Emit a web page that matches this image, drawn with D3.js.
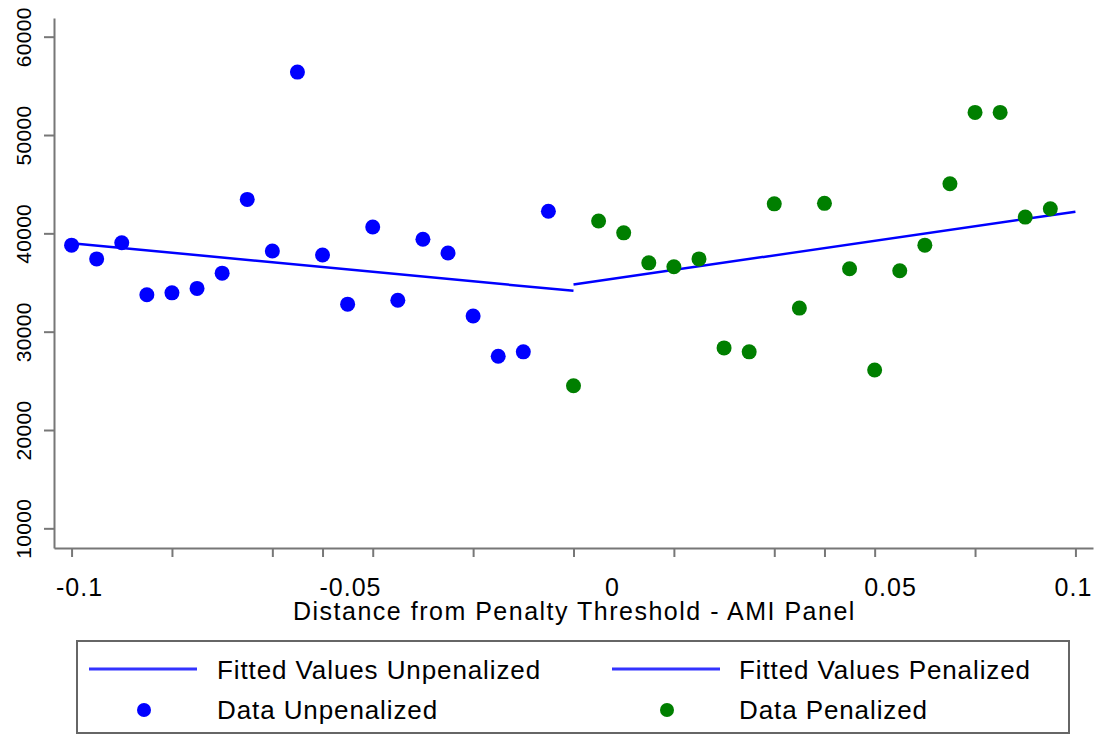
<!DOCTYPE html>
<html>
<head>
<meta charset="utf-8">
<script src="https://cdn.jsdelivr.net/npm/d3@7"></script>
<style>
    body { margin: 0; background: #fff; }
    text { font-family: "Liberation Sans", Arial, sans-serif; fill: #000; }
    .axis path, .axis line { stroke: #777; stroke-width: 2; }
    .tickLabel { font-size: 25px; letter-spacing: 1px; }
    .xTitle { font-size: 25px; letter-spacing: 1.5px; }
    .legendText { font-size: 26px; letter-spacing: 0.9px; }
</style>
</head>
<body>
<script>
//wrap in anonymous function so nothing leaks into global scope
(function (){

    //data: bins of distance from the penalty threshold
    var xUnpen = [-0.1, -0.095, -0.09, -0.085, -0.08, -0.075, -0.07, -0.065, -0.06, -0.055,
                  -0.05, -0.045, -0.04, -0.035, -0.03, -0.025, -0.02, -0.015, -0.01, -0.005];
    var yUnpen = [38800, 37400, 39050, 33750, 33950, 34400, 35950, 43450, 38200, 56400,
                  37800, 32800, 40650, 33200, 39400, 38000, 31600, 27500, 27950, 42250];

    var xPen = [0, 0.005, 0.01, 0.015, 0.02, 0.025, 0.03, 0.035, 0.04, 0.045,
                0.05, 0.055, 0.06, 0.065, 0.07, 0.075, 0.08, 0.085, 0.09, 0.095];
    var yPen = [24500, 41250, 40050, 37000, 36600, 37400, 28350, 27950, 43000, 32400,
                43050, 36400, 26100, 36200, 38800, 45050, 52300, 52300, 41650, 42500];

    //fitted line end points
    var fitUnpenX = [-0.1, 0], fitUnpenY = [39000, 34150];
    var fitPenX = [0, 0.1], fitPenY = [34800, 42200];

    //ticks and labels
    var yTicks = [10000, 20000, 30000, 40000, 50000, 60000];
    var xTicks = [-0.1, -0.08, -0.06, -0.05, -0.04, -0.02, 0, 0.02, 0.04, 0.05, 0.06, 0.08, 0.1];
    var xLabelValues = [-0.1, -0.05, 0, 0.05, 0.1];
    var xLabelText = ["-0.1", "-0.05", "0", "0.05", "0.1"];
    var xLabelNudge = [8, 28, 39, 66, -2]; //labels sit off their ticks in the original

    var legendLabels = ["Fitted Values Unpenalized", "Fitted Values Penalized", "Data Unpenalized", "Data Penalized"];

    window.onload = drawChart();

    function drawChart(){
        var width = 1097, height = 736;

        var svg = d3.select("body")
            .append("svg")
            .attr("width", width)
            .attr("height", height);

        //scales
        var x = d3.scaleLinear()
            .domain([-0.1035, 0.1035])
            .range([54, 1093]);

        var y = d3.scaleLinear()
            .domain([8000, 61900])
            .range([548, 18]);

        //y axis
        var yAxis = svg.append("g")
            .attr("class", "axis")
            .attr("transform", "translate(54,0)")
            .call(d3.axisLeft(y).tickValues(yTicks).tickSize(10).tickSizeOuter(0).tickFormat(d3.format("d")));

        yAxis.selectAll("text")
            .attr("class", "tickLabel")
            .style("font-size", "21px")
            .style("letter-spacing", "0.3px")
            .attr("transform", "rotate(-90)")
            .attr("x", 0)
            .attr("y", -23)
            .attr("dy", null)
            .attr("text-anchor", "middle")
            .style("fill", "#000");

        //x axis, labels drawn separately
        var xAxis = svg.append("g")
            .attr("class", "axis")
            .attr("transform", "translate(0,548)")
            .call(d3.axisBottom(x).tickValues(xTicks).tickSize(9).tickSizeOuter(0).tickFormat(""));

        svg.selectAll(".xLabel")
            .data(xLabelValues)
            .enter()
            .append("text")
            .attr("class", "tickLabel")
            .attr("x", function(d, i){ return x(d) + xLabelNudge[i]; })
            .attr("y", 596)
            .attr("text-anchor", "middle")
            .text(function(d, i){ return xLabelText[i]; });

        //axis title
        svg.append("text")
            .attr("class", "xTitle")
            .attr("x", 293)
            .attr("y", 620)
            .text("Distance from Penalty Threshold - AMI Panel");

        //fitted lines
        var line = d3.line()
            .x(function(d){ return x(d[0]); })
            .y(function(d){ return y(d[1]); });

        svg.append("path")
            .datum(d3.zip(fitUnpenX, fitUnpenY))
            .attr("d", line)
            .attr("fill", "none")
            .attr("stroke", "#0000ff")
            .attr("stroke-width", 2.5);

        svg.append("path")
            .datum(d3.zip(fitPenX, fitPenY))
            .attr("d", line)
            .attr("fill", "none")
            .attr("stroke", "#0000ff")
            .attr("stroke-width", 2.5);

        //scatter points
        svg.selectAll(".dotUnpen")
            .data(d3.zip(xUnpen, yUnpen))
            .enter()
            .append("circle")
            .attr("class", "dotUnpen")
            .attr("cx", function(d){ return x(d[0]); })
            .attr("cy", function(d){ return y(d[1]); })
            .attr("r", 7.5)
            .style("fill", "#0000ff");

        svg.selectAll(".dotPen")
            .data(d3.zip(xPen, yPen))
            .enter()
            .append("circle")
            .attr("class", "dotPen")
            .attr("cx", function(d){ return x(d[0]); })
            .attr("cy", function(d){ return y(d[1]); })
            .attr("r", 7.5)
            .style("fill", "#007f00");

        drawLegend(svg);
    }

    function drawLegend(svg){
        var legend = svg.append("g").attr("class", "legend");

        legend.append("rect")
            .attr("x", 77)
            .attr("y", 641)
            .attr("width", 992)
            .attr("height", 92)
            .attr("fill", "#fff")
            .attr("stroke", "#666")
            .attr("stroke-width", 2);

        var colX = [89, 612], textX = [217, 739];

        //fitted lines row
        for (var i=0; i<2; i++){
            legend.append("line")
                .attr("x1", colX[i])
                .attr("x2", colX[i] + 108)
                .attr("y1", 669)
                .attr("y2", 669)
                .attr("stroke", "#3333ff")
                .attr("stroke-width", 3);
            legend.append("text")
                .attr("class", "legendText")
                .attr("x", textX[i])
                .attr("y", 679)
                .text(legendLabels[i]);
        }

        //data row
        var dotColors = ["#0000ff", "#007f00"];
        for (var j=0; j<2; j++){
            legend.append("circle")
                .attr("cx", colX[j] + 55)
                .attr("cy", 710)
                .attr("r", 7)
                .style("fill", dotColors[j]);
            legend.append("text")
                .attr("class", "legendText")
                .attr("x", textX[j])
                .attr("y", 719)
                .text(legendLabels[j + 2]);
        }
    }

})();
</script>
</body>
</html>
